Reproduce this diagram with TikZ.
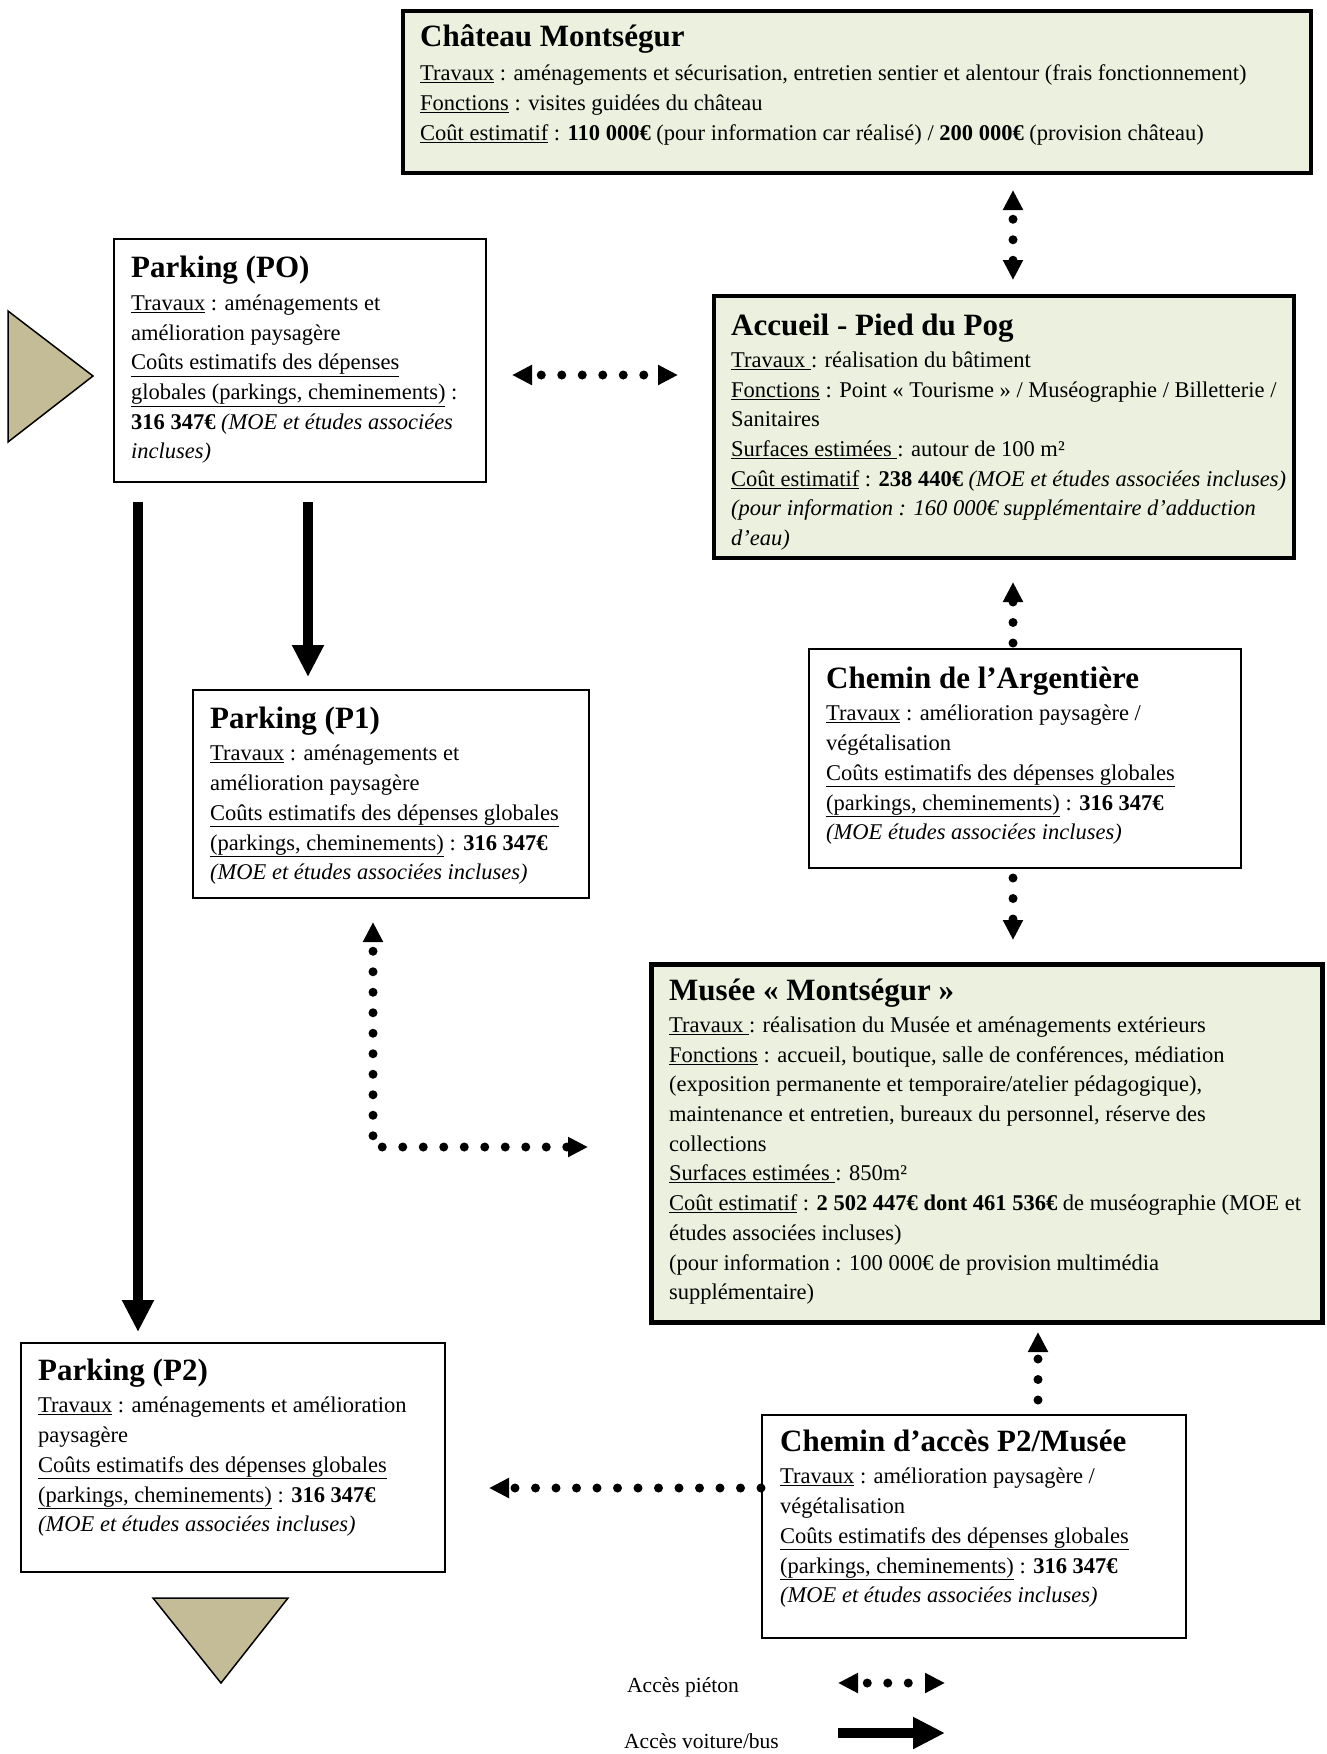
\documentclass[tikz,border=0pt]{standalone}
\usepackage{fontspec}
\setmainfont{Liberation Serif}
\usetikzlibrary{arrows.meta}
\definecolor{boxgreen}{HTML}{EBF1DE}
\definecolor{tanc}{HTML}{C4BC96}
\newcommand{\ttl}[1]{{\rule{0pt}{40pt}\fontsize{31}{35}\selectfont\bfseries #1}}
\newcommand{\uln}[1]{\underline{#1}}
\begin{document}
\begin{tikzpicture}[x=1pt,y=-1pt,
  box/.style={draw=black, line width=1.5pt, fill=white, inner sep=0pt, anchor=north west},
  gbox/.style={box, fill=boxgreen, line width=3.5pt},
  txt/.style={anchor=north west, inner sep=0pt, align=left, font=\fontsize{22.5}{29.7}\selectfont},
  legtxt/.style={anchor=base west, inner sep=0pt, font=\fontsize{21.5}{24}\selectfont},
  ped/.style={line width=9pt, line cap=round, dash pattern=on 0pt off 20.5pt, dash phase=10pt, >={Triangle[length=20pt,width=19pt]}},
  car/.style={line width=10pt, ->, >={Triangle[length=32pt,width=30pt]}},
  tri/.style={draw=black, line width=1.5pt, fill=tanc, line join=miter}
]
\useasboundingbox[fill=white] (0,0) rectangle (1326,1754);

% ---- boxes
\node[gbox, minimum width=908pt, minimum height=162pt] (chateau) at (401,9) {};
\node[box, minimum width=372pt, minimum height=243pt] (po) at (113,238) {};
\node[gbox, minimum width=580pt, minimum height=262pt] (accueil) at (712,294) {};
\node[box, minimum width=396pt, minimum height=208pt] (p1) at (192,689) {};
\node[box, minimum width=432pt, minimum height=219pt] (arg) at (808,648) {};
\node[gbox, line width=5pt, minimum width=671pt, minimum height=358pt] (musee) at (649,962) {};
\node[box, minimum width=424pt, minimum height=229pt] (p2) at (20,1342) {};
\node[box, minimum width=424pt, minimum height=223pt] (chemin) at (761,1414) {};

% ---- texts (node top = title baseline - 40)
\node[txt] (chateauT) at (420,6) {\ttl{Château Montségur}\\[5pt]
\uln{Travaux} : aménagements et sécurisation, entretien sentier et alentour (frais fonctionnement)\\
\uln{Fonctions} : visites guidées du château\\
\uln{Coût estimatif} : \textbf{110 000€} (pour information car réalisé) / \textbf{200 000€} (provision château)};

\node[txt] (poT) at (131,237) {\ttl{Parking (PO)}\\[3.5pt]
\uln{Travaux} : aménagements et\\
amélioration paysagère\\
\uln{Coûts estimatifs des dépenses}\\
\uln{globales (parkings, cheminements)} :\\
\textbf{316 347€} \textit{(MOE et études associées}\\
\textit{incluses)}};

\node[txt] (accueilT) at (731,295) {\ttl{Accueil - Pied du Pog}\\[2.5pt]
\uln{Travaux }: réalisation du bâtiment\\
\uln{Fonctions} : Point « Tourisme » / Muséographie / Billetterie /\\
Sanitaires\\
\uln{Surfaces estimées }: autour de 100 m²\\
\uln{Coût estimatif} : \textbf{238 440€} \textit{(MOE et études associées incluses)}\\
\textit{(pour information : 160 000€ supplémentaire d’adduction}\\
\textit{d’eau)}};

\node[txt] (p1T) at (210,688) {\ttl{Parking (P1)}\\[3pt]
\uln{Travaux} : aménagements et\\
amélioration paysagère\\
\uln{Coûts estimatifs des dépenses globales}\\
\uln{(parkings, cheminements)} : \textbf{316 347€}\\
\textit{(MOE et études associées incluses)}};

\node[txt] (argT) at (826,648) {\ttl{Chemin de l’Argentière}\\[3pt]
\uln{Travaux} : amélioration paysagère /\\
végétalisation\\
\uln{Coûts estimatifs des dépenses globales}\\
\uln{(parkings, cheminements)} : \textbf{316 347€}\\
\textit{(MOE études associées incluses)}};

\node[txt] (museeT) at (669,960) {\ttl{Musée « Montségur »}\\[2.5pt]
\uln{Travaux }: réalisation du Musée et aménagements extérieurs\\
\uln{Fonctions} : accueil, boutique, salle de conférences, médiation\\
(exposition permanente et temporaire/atelier pédagogique),\\
maintenance et entretien, bureaux du personnel, réserve des\\
collections\\
\uln{Surfaces estimées }: 850m²\\
\uln{Coût estimatif} : \textbf{2 502 447€ dont 461 536€} de muséographie (MOE et\\
études associées incluses)\\
(pour information : 100 000€ de provision multimédia\\
supplémentaire)};

\node[txt] (p2T) at (38,1340) {\ttl{Parking (P2)}\\[3pt]
\uln{Travaux} : aménagements et amélioration\\
paysagère\\
\uln{Coûts estimatifs des dépenses globales}\\
\uln{(parkings, cheminements)} : \textbf{316 347€}\\
\textit{(MOE et études associées incluses)}};

\node[txt] (cheminT) at (780,1411) {\ttl{Chemin d’accès P2/Musée}\\[3pt]
\uln{Travaux} : amélioration paysagère /\\
végétalisation\\
\uln{Coûts estimatifs des dépenses globales}\\
\uln{(parkings, cheminements)} : \textbf{316 347€}\\
\textit{(MOE et études associées incluses)}};

% ---- triangles
\draw[tri] (8,311) -- (93,376) -- (8,442) -- cycle;
\draw[tri] (153,1598) -- (288,1598) -- (221,1683) -- cycle;

% ---- connector end points
\coordinate (a1t) at (1013,190);
\coordinate (a1b) at (1013,280);
\coordinate (a2l) at (512,375);
\coordinate (a2r) at (678,375);
\coordinate (a3s) at (308,502);
\coordinate (a3e) at (308,677);
\coordinate (a4s) at (138,502);
\coordinate (a4e) at (138,1332);
\coordinate (a5s) at (1013,643);
\coordinate (a5e) at (1013,582);
\coordinate (a6s) at (1013,878);
\coordinate (a6e) at (1013,940);
\coordinate (a7t) at (373,922);
\coordinate (a7c) at (373,1147);
\coordinate (a7r) at (588,1147);
\coordinate (a8s) at (1038,1400);
\coordinate (a8e) at (1038,1332);
\coordinate (a9s) at (761,1488);
\coordinate (a9e) at (489,1488);

% ---- connectors
\draw[ped,<->] (a1t) -- (a1b);
\draw[ped,<->] (a2l) -- (a2r);
\draw[car] (a3s) -- (a3e);
\draw[car] (a4s) -- (a4e);
\draw[ped,->,dash phase=0pt] (a5s) -- (a5e);
\draw[ped,->,dash phase=0pt] (a6s) -- (a6e);
\draw[ped,<->] (a7t) -- (a7c) -- (a7r);
\draw[ped,->,dash phase=0pt] (a8s) -- (a8e);
\draw[ped,->,dash phase=0pt] (a9s) -- (a9e);

% ---- legend
\node[legtxt] (legped) at (627,1692) {Accès piéton};
\node[legtxt] (legcar) at (624,1748) {Accès voiture/bus};
\coordinate (l1s) at (838,1683);
\coordinate (l1e) at (945,1683);
\coordinate (l2s) at (838,1733);
\coordinate (l2e) at (945,1733);
\draw[ped,<->] (l1s) -- (l1e);
\draw[car] (l2s) -- (l2e);
\end{tikzpicture}
\end{document}
